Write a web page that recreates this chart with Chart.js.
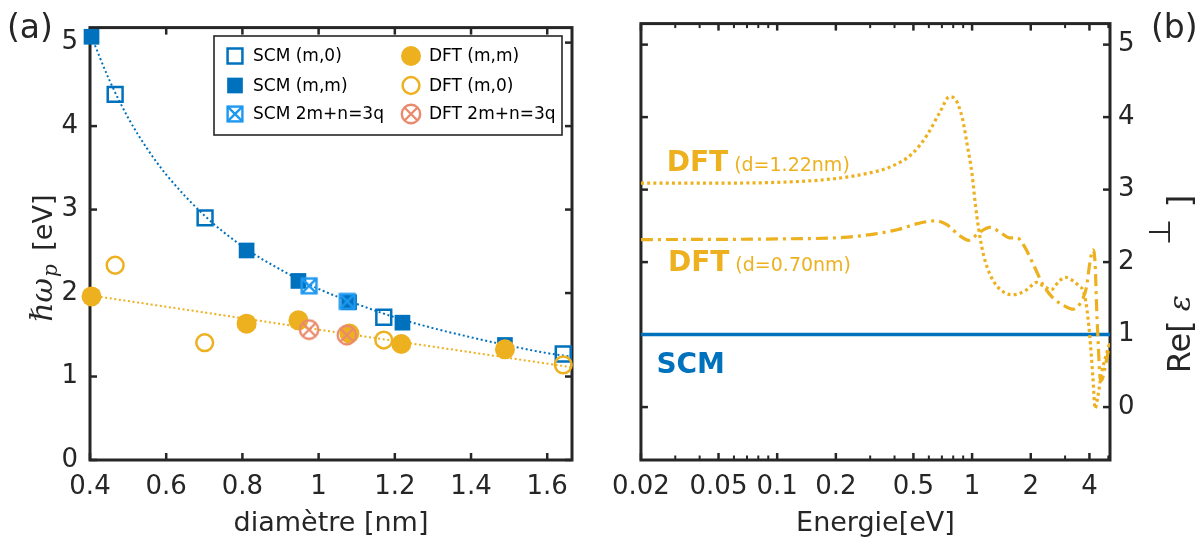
<!DOCTYPE html>
<html><head><meta charset="utf-8">
<script src="https://cdn.jsdelivr.net/npm/chart.js@4.4.1/dist/chart.umd.min.js"></script>
<style>
html,body{margin:0;padding:0;background:#fff;width:1204px;height:544px;overflow:hidden}
#wa{position:absolute;left:0;top:0;width:600px;height:544px}
#wb{position:absolute;left:600px;top:0;width:604px;height:544px}
</style></head><body>
<div id="wa"><canvas id="ca" width="600" height="544"></canvas></div>
<div id="wb"><canvas id="cb" width="604" height="544"></canvas></div>
<script>
// ---------- Panel (a) data ----------
const scmM0_d = [0.466, 0.702, 1.171, 1.642];
const scmM0_w = [4.38, 2.90, 1.71, 1.27];
const scmMM_d = [0.404, 0.811, 0.947, 1.080, 1.220, 1.489];
const scmMM_w = [5.07, 2.51, 2.145, 1.89, 1.645, 1.378];
const scm3q_d = [0.975, 1.075];
const scm3q_w = [2.086, 1.90];
const dftMM_d = [0.404, 0.811, 0.947, 1.081, 1.217, 1.489];
const dftMM_w = [1.96, 1.633, 1.673, 1.515, 1.39, 1.326];
const dftM0_d = [0.466, 0.701, 1.171, 1.642];
const dftM0_w = [2.333, 1.405, 1.437, 1.14];
const dft3q_d = [0.975, 1.074];
const dft3q_w = [1.562, 1.496];
const fitSCM_d = [0.404, 0.45, 0.5, 0.55, 0.6, 0.7, 0.8, 0.9, 1.0, 1.1, 1.2, 1.3, 1.4, 1.5, 1.6, 1.66];
const fitSCM_w = [5.07, 4.56, 4.10, 3.73, 3.42, 2.93, 2.56, 2.28, 2.05, 1.87, 1.71, 1.58, 1.47, 1.37, 1.28, 1.24];
const fitDFT_d = [0.404, 1.0, 1.665];
const fitDFT_w = [1.97, 1.562, 1.11];
const xTicksA = [0.4, 0.6, 0.8, 1, 1.2, 1.4, 1.6];
const yTicksA = [0, 1, 2, 3, 4, 5];
const legendA = ['SCM (m,0)', 'SCM (m,m)', 'SCM 2m+n=3q', 'DFT (m,m)', 'DFT (m,0)', 'DFT 2m+n=3q'];

// ---------- Panel (b) data ----------
const E_122 = [0.02, 0.05, 0.1, 0.18, 0.274, 0.386, 0.495, 0.587, 0.684, 0.766, 0.828, 0.892, 0.944, 1.0, 1.04, 1.079, 1.142, 1.256, 1.462, 1.64, 1.91, 2.14, 2.35, 2.55, 2.8, 3.01, 3.3, 3.51, 3.72, 3.86, 4.01, 4.17, 4.28, 4.42, 4.6, 4.85, 5.1];
const eps_122 = [3.09, 3.09, 3.10, 3.14, 3.21, 3.32, 3.50, 3.75, 4.07, 4.28, 4.23, 3.98, 3.62, 3.21, 2.79, 2.47, 2.11, 1.79, 1.58, 1.55, 1.62, 1.72, 1.66, 1.62, 1.74, 1.79, 1.74, 1.68, 1.60, 1.40, 1.00, 0.40, -0.02, 0.15, 0.45, 0.70, 0.90];
const E_070 = [0.02, 0.1, 0.218, 0.319, 0.417, 0.524, 0.646, 0.738, 0.859, 0.962, 1.079, 1.232, 1.41, 1.55, 1.70, 1.87, 2.06, 2.31, 2.59, 2.96, 3.31, 3.65, 3.86, 4.01, 4.17, 4.28, 4.36, 4.44, 4.53, 4.62, 4.77, 4.96, 5.1];
const eps_070 = [2.31, 2.32, 2.34, 2.39, 2.45, 2.53, 2.57, 2.52, 2.37, 2.30, 2.40, 2.48, 2.40, 2.335, 2.335, 2.20, 1.97, 1.69, 1.51, 1.40, 1.35, 1.465, 1.65, 1.97, 2.17, 1.97, 1.33, 0.87, 0.41, 0.37, 0.50, 0.73, 0.88];
const E_scm = [0.02, 5.1];
const eps_scm = [1, 1];
const xLabelsB = [0.02, 0.05, 0.1, 0.2, 0.5, 1, 2, 4];
const xMinorB = [0.03, 0.04, 0.06, 0.07, 0.08, 0.09, 0.3, 0.4, 0.6, 0.7, 0.8, 0.9, 3, 5];
const yTicksB = [0, 1, 2, 3, 4, 5];

// ---------- styles ----------
const BLUE = '#0072BD', LBLUE = '#1E98F0', ORANGE = '#EDB120', SALMON = '#EA8A6C', AX = '#262626';
const SANS = '"DejaVu Sans", "Liberation Sans", sans-serif';
const xy = (xs, ys) => xs.map((x, i) => ({x: x, y: ys[i]}));

function markSq(color) {
  const c = document.createElement('canvas'); c.width = c.height = 22;
  const g = c.getContext('2d'); g.strokeStyle = color; g.lineWidth = 2.4; const h = 7.4, m = 11;
  g.strokeRect(m - h, m - h, 2 * h, 2 * h);
  g.beginPath(); g.moveTo(m - h, m - h); g.lineTo(m + h, m + h); g.moveTo(m + h, m - h); g.lineTo(m - h, m + h); g.stroke();
  return c;
}
function markCirc(color) {
  const c = document.createElement('canvas'); c.width = c.height = 24;
  const g = c.getContext('2d'); g.strokeStyle = color; g.lineWidth = 2.4; const r = 9.2, m = 12, d = r * 0.7071;
  g.beginPath(); g.arc(m, m, r, 0, 2 * Math.PI); g.stroke();
  g.beginPath(); g.moveTo(m - d, m - d); g.lineTo(m + d, m + d); g.moveTo(m + d, m - d); g.lineTo(m - d, m + d); g.stroke();
  return c;
}
const imgSq = markSq(LBLUE), imgCirc = markCirc(SALMON);
const TRANSP = 'rgba(0,0,0,0)';
const mk = {
  scmM0: {pointStyle: 'rect', radius: 10.5, fill: TRANSP, stroke: BLUE, bw: 2.5},
  scmMM: {pointStyle: 'rect', radius: 11.1, fill: BLUE, stroke: BLUE, bw: 0},
  scm3q: {pointStyle: imgSq, radius: 11, fill: TRANSP, stroke: LBLUE, bw: 0},
  dftMM: {pointStyle: 'circle', radius: 10, fill: ORANGE, stroke: ORANGE, bw: 0},
  dftM0: {pointStyle: 'circle', radius: 8.4, fill: TRANSP, stroke: ORANGE, bw: 2.5},
  dft3q: {pointStyle: imgCirc, radius: 12, fill: TRANSP, stroke: SALMON, bw: 0}
};
function ptDs(label, xs, ys, m, order) {
  return {label: label, data: xy(xs, ys), pointStyle: m.pointStyle, pointRadius: m.radius, pointHoverRadius: m.radius,
    pointBackgroundColor: m.fill, pointBorderColor: m.stroke, pointBorderWidth: m.bw, showLine: false, order: order, clip: false};
}

function tickLine(ctx, x1, y1, x2, y2) { ctx.beginPath(); ctx.moveTo(x1, y1); ctx.lineTo(x2, y2); ctx.stroke(); }

// ---------- panel (a) plugin ----------
const panelA = {
  id: 'panelA',
  beforeDatasetsDraw(chart) {
    const {ctx, chartArea: a, scales: {x, y}} = chart;
    ctx.save();
    ctx.strokeStyle = AX; ctx.lineWidth = 2.5; ctx.lineCap = 'butt';
    xTicksA.forEach(v => { const p = x.getPixelForValue(v); tickLine(ctx, p, a.bottom, p, a.bottom - 7); tickLine(ctx, p, a.top, p, a.top + 7); });
    yTicksA.forEach(v => { const p = y.getPixelForValue(v); tickLine(ctx, a.left, p, a.left + 7, p); tickLine(ctx, a.right, p, a.right - 7, p); });
    ctx.lineWidth = 3;
    ctx.strokeRect(a.left, a.top, a.right - a.left, a.bottom - a.top);
    ctx.restore();
  },
  afterDatasetsDraw(chart) {
    const ctx = chart.ctx;
    ctx.save();
    // legend
    const L = 214, T = 36, R = 562, B = 135;
    ctx.fillStyle = '#fff'; ctx.fillRect(L, T, R - L, B - T);
    ctx.strokeStyle = AX; ctx.lineWidth = 1.6; ctx.strokeRect(L, T, R - L, B - T);
    const rows = [56, 85.5, 114];
    const cols = [[235, 253], [411, 429]];
    const ms = [mk.scmM0, mk.scmMM, mk.scm3q, mk.dftMM, mk.dftM0, mk.dft3q];
    legendA.forEach((t, i) => {
      const c = cols[Math.floor(i / 3)], yy = rows[i % 3], m = ms[i];
      ctx.save();
      ctx.fillStyle = m.fill; ctx.strokeStyle = m.stroke; ctx.lineWidth = m.bw;
      Chart.helpers.drawPoint(ctx, {pointStyle: m.pointStyle, radius: m.radius, borderWidth: m.bw, rotation: 0}, c[0], yy);
      ctx.restore();
      ctx.fillStyle = '#000'; ctx.font = '17px ' + SANS; ctx.textBaseline = 'middle'; ctx.textAlign = 'left';
      ctx.fillText(t, c[1], yy + 1);
    });
    ctx.restore();
  },
  afterDraw(chart) {
    const ctx = chart.ctx;
    ctx.save();
    ctx.fillStyle = AX; ctx.textBaseline = 'alphabetic'; ctx.textAlign = 'left';
    ctx.font = '33px ' + SANS;
    ctx.fillText('(a)', 7, 38);
    // y title
    ctx.translate(51.5, 321.7); ctx.rotate(-Math.PI / 2);
    ctx.font = 'italic 30px "DejaVu Serif", serif';
    ctx.fillText('\u210F\u03C9', 0, 0);
    const w = ctx.measureText('\u210F\u03C9').width;
    ctx.font = 'italic 20px "DejaVu Serif", serif';
    ctx.fillText('p', w + 1, 5);
    ctx.font = '27px ' + SANS;
    ctx.fillText('[eV]', 71, 0);
    ctx.restore();
  }
};

new Chart(document.getElementById('ca'), {
  type: 'scatter',
  data: {datasets: [
    ptDs('DFT 2m+n=3q', dft3q_d, dft3q_w, mk.dft3q, 3),
    ptDs('DFT (m,0)', dftM0_d, dftM0_w, mk.dftM0, 4),
    ptDs('DFT (m,m)', dftMM_d, dftMM_w, mk.dftMM, 5),
    ptDs('SCM 2m+n=3q', scm3q_d, scm3q_w, mk.scm3q, 6),
    ptDs('SCM (m,m)', scmMM_d, scmMM_w, mk.scmMM, 7),
    ptDs('SCM (m,0)', scmM0_d, scmM0_w, mk.scmM0, 8),
    {label: 'fit SCM', type: 'line', data: xy(fitSCM_d, fitSCM_w), borderColor: BLUE, borderWidth: 2, borderDash: [2, 2.6],
      pointRadius: 0, cubicInterpolationMode: 'monotone', fill: false, order: 20},
    {label: 'fit DFT', type: 'line', data: xy(fitDFT_d, fitDFT_w), borderColor: ORANGE, borderWidth: 2, borderDash: [2, 2.6],
      pointRadius: 0, fill: false, order: 19}
  ]},
  options: {
    responsive: false, animation: false, devicePixelRatio: 1,
    layout: {padding: {top: 22, right: 28, left: 0, bottom: 0}},
    plugins: {legend: {display: false}, tooltip: {enabled: false}},
    scales: {
      x: {type: 'linear', min: 0.4, max: 1.665, afterFit(s) { s.height = 84; },
        grid: {display: false, drawTicks: false}, border: {display: false},
        afterBuildTicks(s) { s.ticks = xTicksA.map(v => ({value: v})); },
        ticks: {autoSkip: false, maxRotation: 0, padding: 12, color: AX, font: {family: SANS, size: 26},
          callback: v => String(+v.toFixed(2))},
        title: {display: true, text: 'diam\u00E8tre [nm]', color: AX, font: {family: SANS, size: 27}, padding: {top: 0, bottom: 4}}},
      y: {type: 'linear', min: 0, max: 5.18, afterFit(s) { s.width = 90; },
        grid: {display: false, drawTicks: false}, border: {display: false},
        afterBuildTicks(s) { s.ticks = yTicksA.map(v => ({value: v})); },
        ticks: {autoSkip: false, padding: 12, color: AX, font: {family: SANS, size: 26}, callback: v => String(v)}}
    }
  },
  plugins: [panelA]
});

// ---------- panel (b) ----------
const panelB = {
  id: 'panelB',
  beforeDatasetsDraw(chart) {
    const {ctx, chartArea: a, scales: {x, y}} = chart;
    ctx.save();
    ctx.strokeStyle = AX; ctx.lineWidth = 2.5;
    xLabelsB.forEach(v => { const p = x.getPixelForValue(v); tickLine(ctx, p, a.bottom, p, a.bottom - 7); tickLine(ctx, p, a.top, p, a.top + 7); });
    ctx.lineWidth = 2;
    xMinorB.forEach(v => { const p = x.getPixelForValue(v); tickLine(ctx, p, a.bottom, p, a.bottom - 4.5); tickLine(ctx, p, a.top, p, a.top + 4.5); });
    ctx.lineWidth = 2.5;
    yTicksB.forEach(v => { const p = y.getPixelForValue(v); tickLine(ctx, a.left, p, a.left + 7, p); tickLine(ctx, a.right, p, a.right - 7, p); });
    ctx.lineWidth = 3;
    ctx.strokeRect(a.left, a.top, a.right - a.left, a.bottom - a.top);
    ctx.restore();
  },
  afterDatasetsDraw(chart) {
    const {ctx, scales: {x, y}} = chart;
    ctx.save();
    ctx.textBaseline = 'alphabetic'; ctx.textAlign = 'left';
    const lab = (E, v, big, small, color) => {
      const px = x.getPixelForValue(E), py = y.getPixelForValue(v);
      ctx.fillStyle = color; ctx.font = 'bold 28px ' + SANS;
      ctx.fillText(big, px, py);
      if (small) {
        const w = ctx.measureText(big).width;
        ctx.font = '19px ' + SANS;
        ctx.fillText(small, px + w + 6, py);
      }
    };
    lab(0.0271, 3.26, 'DFT', '(d=1.22nm)', ORANGE);
    lab(0.0275, 1.88, 'DFT', '(d=0.70nm)', ORANGE);
    lab(0.024, 0.47, 'SCM', '', BLUE);
    ctx.restore();
  },
  afterDraw(chart) {
    const ctx = chart.ctx;
    ctx.save();
    ctx.fillStyle = AX; ctx.textBaseline = 'alphabetic'; ctx.textAlign = 'left';
    ctx.font = '33px ' + SANS;
    ctx.fillText('(b)', 551, 38);
    ctx.translate(590, 373.3); ctx.rotate(-Math.PI / 2);
    ctx.font = '32px ' + SANS;
    ctx.fillText('Re[', 0, 0);
    ctx.font = 'italic 30px "DejaVu Serif", serif';
    ctx.fillText('\u03B5', 62, 0);
    ctx.font = '30px ' + SANS;
    ctx.fillText('\u22A5', 128, -20);
    ctx.font = '32px ' + SANS;
    ctx.fillText(']', 166, 0);
    ctx.restore();
  }
};

new Chart(document.getElementById('cb'), {
  type: 'line',
  data: {datasets: [
    {label: 'SCM', data: xy(E_scm, eps_scm), borderColor: BLUE, borderWidth: 3.5, pointRadius: 0, fill: false, order: 3},
    {label: 'DFT d=1.22nm', data: xy(E_122, eps_122), borderColor: ORANGE, borderWidth: 3.2, borderDash: [3, 3.2],
      pointRadius: 0, cubicInterpolationMode: 'monotone', fill: false, order: 2},
    {label: 'DFT d=0.70nm', data: xy(E_070, eps_070), borderColor: ORANGE, borderWidth: 3.2, borderDash: [12, 5, 3, 5],
      pointRadius: 0, cubicInterpolationMode: 'monotone', fill: false, order: 1}
  ]},
  options: {
    responsive: false, animation: false, devicePixelRatio: 1,
    layout: {padding: {top: 22, right: 0, left: 25, bottom: 0}},
    plugins: {legend: {display: false}, tooltip: {enabled: false}},
    scales: {
      x: {type: 'logarithmic', min: 0.02, max: 5.1, afterFit(s) { s.height = 84; },
        grid: {display: false, drawTicks: false}, border: {display: false},
        afterBuildTicks(s) { s.ticks = xLabelsB.map(v => ({value: v})); },
        ticks: {autoSkip: false, maxRotation: 0, padding: 12, color: AX, font: {family: SANS, size: 26},
          callback: v => String(v)},
        title: {display: true, text: 'Energie[eV]', color: AX, font: {family: SANS, size: 27}, padding: {top: 0, bottom: 4}}},
      y: {type: 'linear', position: 'right', min: -0.73, max: 5.29, afterFit(s) { s.width = 94; },
        grid: {display: false, drawTicks: false}, border: {display: false},
        afterBuildTicks(s) { s.ticks = yTicksB.map(v => ({value: v})); },
        ticks: {autoSkip: false, padding: 8, color: AX, font: {family: SANS, size: 26}, callback: v => String(v)}}
    }
  },
  plugins: [panelB]
});
</script>
</body></html>
